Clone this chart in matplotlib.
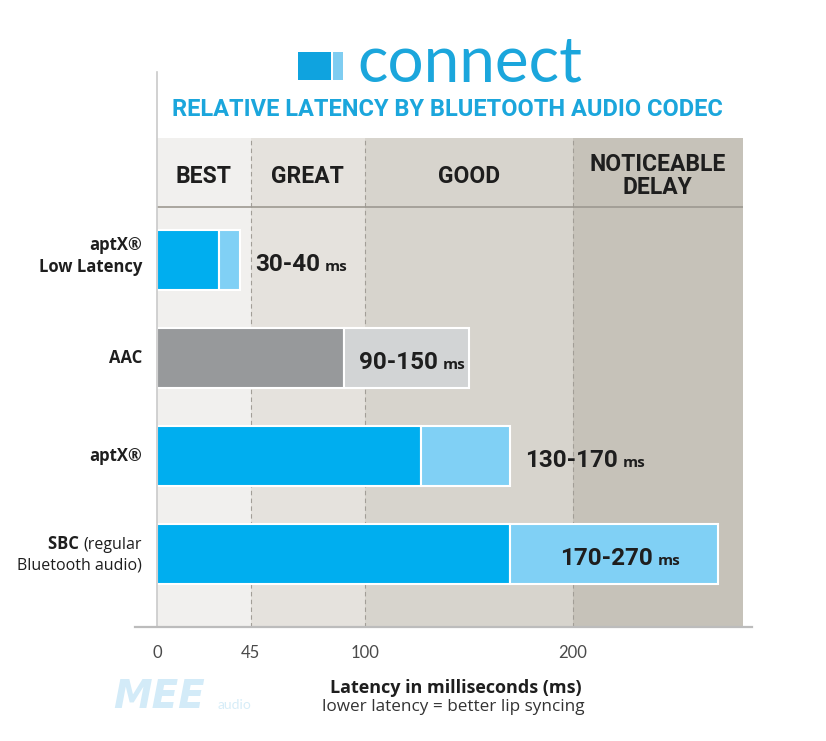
import matplotlib.pyplot as plt
from matplotlib.patches import Rectangle

# data
codecs = ["aptX®\nLow Latency", "AAC", "aptX®", "SBC"]
low_ms = [30, 90, 127, 170]
high_ms = [40, 150, 170, 270]
range_labels = ["30-40", "90-150", "130-170", "170-270"]
dark_colors = ["#00aeef", "#97999b", "#00aeef", "#00aeef"]
light_colors = ["#80d0f5", "#d2d4d5", "#80d0f5", "#80d0f5"]

zone_edges = [0, 45, 100, 200, 282]
zone_names = ["BEST", "GREAT", "GOOD", "NOTICEABLE\nDELAY"]
zone_colors = ["#f1f0ee", "#e5e2dd", "#d7d4cd", "#c6c2b9"]
tick_values = [0, 45, 100, 200]

W, H = 826, 741
COND = "Roboto"  # narrowest bold family available
BLUE = "#1ba6dc"
INK = "#1e1e1e"


def fx(px):
    return px / W


def fy(py):
    return 1 - py / H


fig = plt.figure(figsize=(W / 100, H / 100), dpi=100)
ax = fig.add_axes([fx(157), fy(627), fx(743) - fx(157), fy(138) - fy(627)])
ax.set_xlim(zone_edges[0], zone_edges[-1])
ax.set_ylim(3.745, -1.245)
header_bottom = -0.541

# zones + header
for lo, hi, c in zip(zone_edges[:-1], zone_edges[1:], zone_colors):
    ax.axvspan(lo, hi, color=c, lw=0, zorder=0)
for x in zone_edges[1:-1]:
    ax.axvline(x, color="#a29e97", lw=0.8, ls=(0, (4, 3)), zorder=1)
ax.axhline(header_bottom, color="#9d9991", lw=1.2, zorder=1)
for lo, hi, name in zip(zone_edges[:-1], zone_edges[1:], zone_names):
    ax.annotate(name, xy=((lo + hi) / 2, (header_bottom - 1.245) / 2),
                xytext=(0, -4), textcoords="offset pixels", ha="center", va="center",
                family=COND, weight="bold", fontsize=16.5, color=INK, linespacing=1.0)

# bars
bar_h = 0.62
for i in range(len(codecs)):
    ax.barh(i, low_ms[i], height=bar_h, color=dark_colors[i], edgecolor="white",
            lw=1.5, zorder=3)
    ax.barh(i, high_ms[i] - low_ms[i], left=low_ms[i], height=bar_h,
            color=light_colors[i], edgecolor="white", lw=1.5, zorder=3)

# value labels
for i, lab in enumerate(range_labels):
    seg = high_ms[i] - low_ms[i]
    if seg >= 50:
        x = (low_ms[i] + high_ms[i]) / 2
        num = ax.annotate(lab, xy=(x, i), xytext=(-8, -11), textcoords="offset pixels",
                          ha="center", va="baseline", family=COND, weight="bold",
                          fontsize=17.5, color=INK, zorder=5)
    else:
        num = ax.annotate(lab, xy=(high_ms[i], i), xytext=(15, -11),
                          textcoords="offset pixels", ha="left", va="baseline",
                          family=COND, weight="bold", fontsize=17.5, color=INK,
                          zorder=5)
    ax.annotate("ms", xy=(1, i), xycoords=(num, "data"), xytext=(5, -11),
                textcoords="offset pixels", ha="left", va="baseline",
                family="Open Sans", weight="bold", fontsize=11, color=INK, zorder=5)

# category labels
for i, name in enumerate(codecs):
    if name == "SBC":
        t1 = ax.annotate("(regular", xy=(0, i), xycoords=("axes fraction", "data"),
                         xytext=(-15, 5), textcoords="offset pixels", ha="right",
                         va="baseline", family="Open Sans", fontsize=11.5, color=INK)
        ax.annotate("Bluetooth audio)", xy=(0, i), xycoords=("axes fraction", "data"),
                    xytext=(-15, -16), textcoords="offset pixels", ha="right",
                    va="baseline", family="Open Sans", fontsize=11.5, color=INK)
        ax.annotate("SBC ", xy=(0, i), xycoords=(t1, "data"), xytext=(0, 5),
                    textcoords="offset pixels", ha="right", va="baseline",
                    family="Open Sans", weight="bold", fontsize=12, color=INK)
    else:
        dy = 4 if "\n" in name else 0
        ax.annotate(name, xy=(0, i), xycoords=("axes fraction", "data"),
                    xytext=(-15, dy), textcoords="offset pixels", ha="right",
                    va="center", multialignment="right", family="Open Sans",
                    weight="bold", fontsize=12, color=INK, linespacing=1.3)

# axis frame
for s in ax.spines.values():
    s.set_visible(False)
ax.set_yticks([])
ax.set_xticks(tick_values)
ax.set_xticklabels([str(v) for v in tick_values], family="Lato", fontsize=12,
                   color="#4a4a4a")
ax.tick_params(axis="x", length=0, pad=13)
ax.plot([0, 0], [0, 1.135], transform=ax.transAxes, clip_on=False,
        color="#cacaca", lw=1.2, zorder=6)
ax.plot([-22 / 586, 1 + 9 / 586], [0, 0], transform=ax.transAxes, clip_on=False,
        color="#bcbcbc", lw=1.6, zorder=6)

# header logo and title
fig.patches.append(Rectangle((fx(298), fy(80)), fx(331) - fx(298), fy(52) - fy(80),
                             transform=fig.transFigure, color="#0fa3df", lw=0))
fig.patches.append(Rectangle((fx(333), fy(80)), fx(343) - fx(333), fy(52) - fy(80),
                             transform=fig.transFigure, color="#7fcdf1", lw=0))
fig.text(fx(357), fy(81), "connect", ha="left", va="baseline", family="Lato",
         fontsize=46, color=BLUE)
fig.text(fx(447), fy(110), "RELATIVE LATENCY BY BLUETOOTH AUDIO CODEC", ha="center",
         va="center", family=COND, weight="bold", fontsize=17, color=BLUE)

# axis caption
fig.text(fx(456), fy(688), "Latency in milliseconds (ms)", ha="center", va="center",
         family="Open Sans", weight="bold", fontsize=13, color=INK)
fig.text(fx(453), fy(707), "lower latency = better lip syncing", ha="center",
         va="center", family="Open Sans", fontsize=12.3, color="#333333")

# faint watermark
fig.text(fx(113), fy(697), "MEE", ha="left", va="center", family="DejaVu Sans",
         weight="bold", style="italic", fontsize=28, color="#d3ebf8")
fig.text(fx(218), fy(705), "audio", ha="left", va="center", family="Lato",
         fontsize=10, color="#d7edf8")

fig.savefig("out.png", dpi=100)
